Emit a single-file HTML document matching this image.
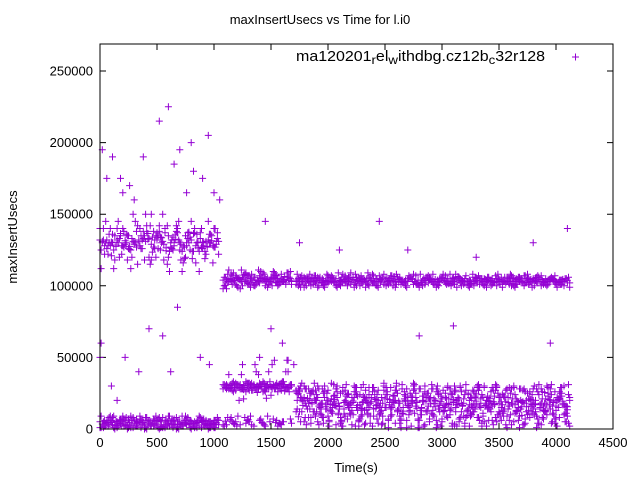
<!DOCTYPE html>
<html><head><meta charset="utf-8"><style>
body{margin:0;background:#fff}
svg{display:block;font-family:"Liberation Sans",sans-serif}
</style></head><body>
<svg id="chart" width="640" height="480" viewBox="0 0 640 480">
<text x="320" y="24" font-size="13" text-anchor="middle">maxInsertUsecs vs Time for l.i0</text>
<text transform="translate(17,237) rotate(-90)" font-size="13" text-anchor="middle">maxInsertUsecs</text>
<text x="356" y="472" font-size="13" text-anchor="middle">Time(s)</text>
<g id="axes"></g>
<g id="marks" stroke="#9400d3" stroke-width="1" fill="none"></g>
<rect x="100" y="44" width="513" height="385" fill="none" stroke="#000" stroke-width="1"/>
<g>
<text x="296" y="61" font-size="14.5" textLength="249" lengthAdjust="spacingAndGlyphs">ma120201<tspan font-size="12" dy="3">r</tspan><tspan dy="-3">el</tspan><tspan font-size="12" dy="3">w</tspan><tspan dy="-3">ithdbg.cz12b</tspan><tspan font-size="12" dy="3">c</tspan><tspan dy="-3">32r128</tspan></text>
<path d="M572 57h7M575.5 53.5v7" stroke="#9400d3"/>
</g>
</svg>
<script>
const xTicks=[0,500,1000,1500,2000,2500,3000,3500,4000,4500];
const yTicks=[0,50000,100000,150000,200000,250000];
const yTickLabels=["0","50000","100000","150000","200000","250000"];
const times=[0,40,80,120,160,200,240,280,320,360,400,440,480,520,560,600,640,680,720,760,800,840,880,920,960,1000,1040,1080,1120,1160,1200,1240,1280,1320,1360,1400,1440,1480,1520,1560,1600,1640,1680,1720,1760,1800,1840,1880,1920,1960,2000,2040,2080,2120,2160,2200,2240,2280,2320,2360,2400,2440,2480,2520,2560,2600,2640,2680,2720,2760,2800,2840,2880,2920,2960,3000,3040,3080,3120,3160,3200,3240,3280,3320,3360,3400,3440,3480,3520,3560,3600,3640,3680,3720,3760,3800,3840,3880,3920,3960,4000,4040,4080,4120];
const upperK=[132,128,136,125,130,140,118,133,127,135,131,142,126,138,129,120,134,137,124,130,145,128,133,119,136,127,131,104,108,101,106,103,109,105,100,107,104,102,110,105,103,106,101,104,106,102,108,103,105,100,107,104,101,106,103,109,102,105,104,100,107,103,106,102,105,108,101,104,106,103,100,105,107,102,104,106,101,103,108,105,102,104,100,107,103,106,101,105,104,102,108,103,106,100,105,104,107,102,103,106,101,104,105,102];
const upperBK=[140,122,130,112,145,128,135,120,138,126,150,115,132,142,118,135,125,140,110,128,132,116,137,124,130,140,122,98,103,107,100,111,104,99,106,102,108,101,105,100,104,109,103,101,99,105,103,107,100,104,102,106,99,103,105,101,108,100,104,106,102,99,105,103,107,101,104,100,106,103,99,105,102,108,101,104,103,100,106,102,105,99,104,107,101,103,105,100,106,102,104,99,103,107,101,105,102,104,100,106,103,101,105,99];
const lowAK=[5,2,8,1,4,9,3,6,2,7,1,5,3,8,2,4,6,1,9,3,5,2,7,4,1,6,3,31,29,32,30,28,33,31,29,30,32,28,31,30,33,29,31,27,22,18,25,12,28,8,20,15,26,5,23,10,29,17,3,24,14,27,9,21,16,30,6,19,25,11,28,2,22,13,26,7,18,24,15,29,4,20,12,27,9,23,16,30,6,19,25,11,28,3,21,14,26,8,17,24,13,29,5,22];
const lowBK=[1,6,3,9,2,5,0,4,7,1,8,2,6,0,3,9,1,5,2,7,0,4,8,2,5,1,6,28,30,27,31,29,26,30,28,32,27,29,30,26,31,28,30,12,5,28,14,21,3,25,9,17,30,2,19,11,26,7,22,15,29,4,18,24,10,27,1,20,13,31,6,23,16,28,3,21,9,25,12,30,2,17,26,8,22,14,29,5,19,27,10,24,1,18,13,28,7,21,30,4,16,25,11,20];
const lowCK=[null,null,null,null,null,null,null,null,null,null,null,null,null,null,null,null,null,null,null,null,null,null,null,null,null,null,null,3,8,5,2,38,4,9,45,6,3,40,7,2,5,48,4,26,30,8,20,32,16,4,27,11,22,6,31,18,2,24,13,29,9,20,4,26,15,32,7,23,12,28,1,19,25,10,30,5,21,14,27,8,24,2,18,31,11,22,6,29,15,3,25,17,9,28,12,20,4,26,10,31,7,23,16,2];
const outlierX=[20,60,110,150,200,300,380,450,520,600,650,700,760,800,900,950,1000,430,550,620,680,880,960,100,220,340,0,10,1450,1750,2450,3100,3950,4100,2100,2700,3300,3800,1500,1600,1400,1700,1650,2800,180,260,500,820,1050];
const outlierYK=[195,175,190,20,165,160,190,150,215,225,185,195,165,200,175,205,165,70,65,40,85,50,45,30,50,40,50,60,145,130,145,72,60,140,125,125,120,130,70,60,50,45,40,65,175,170,135,180,160];
const X=v=>100+v/4500*513;
const Y=v=>429-v/250000*358;
const ns="http://www.w3.org/2000/svg";
const axes=document.getElementById('axes'),marks=document.getElementById('marks');
function mk(tag,attrs,parent){const e=document.createElementNS(ns,tag);for(const k in attrs)e.setAttribute(k,attrs[k]);parent.appendChild(e);return e;}
xTicks.forEach(t=>{const x=X(t);
const l=mk('path',{d:`M${x} 429v-6M${x} 44v6`,stroke:'#000'},axes);


const tx=mk('text',{x:x,y:447,'font-size':13,'text-anchor':'middle'},axes);tx.textContent=t;

});
yTicks.forEach((t,i)=>{const y=Y(t);
const l=mk('path',{d:`M100 ${y}h6M613 ${y}h-6`,stroke:'#000'},axes);


const tx=mk('text',{x:93,y:y+4.5,'font-size':13,'text-anchor':'end'},axes);tx.textContent=yTickLabels[i];

});
let d='';
function add(t,k){if(k==null)return;const x=X(t),y=Y(k*1000);d+=`M${(x-3.5).toFixed(1)} ${y.toFixed(1)}h7M${x.toFixed(1)} ${(y-3.5).toFixed(1)}v7`;}
const region=t=>t<1080?0:(t<1720?1:2);
const series=[upperK,upperBK,lowAK,lowBK,lowCK];
series.forEach(s=>{const n=s.length;times.forEach((t,i)=>{
  add(t,s[i]);
  if(s[i]==null||i+1>=n)return;
  // extra samples between listed times reuse values from the same regime of the same series
  const pick=j=>(j>=0&&j<n&&s[j]!=null&&region(times[j])===region(t))?s[j]:s[i];
  if(region(times[i+1])!==region(t))return;
  add(t+10,pick(i+3));add(t+20,(s[i]+pick(i+1))/2);add(t+30,pick(i-3));
});});
outlierX.forEach((t,i)=>add(t,outlierYK[i]));
const p=mk('path',{d:d},marks);


</script>
</body></html>
